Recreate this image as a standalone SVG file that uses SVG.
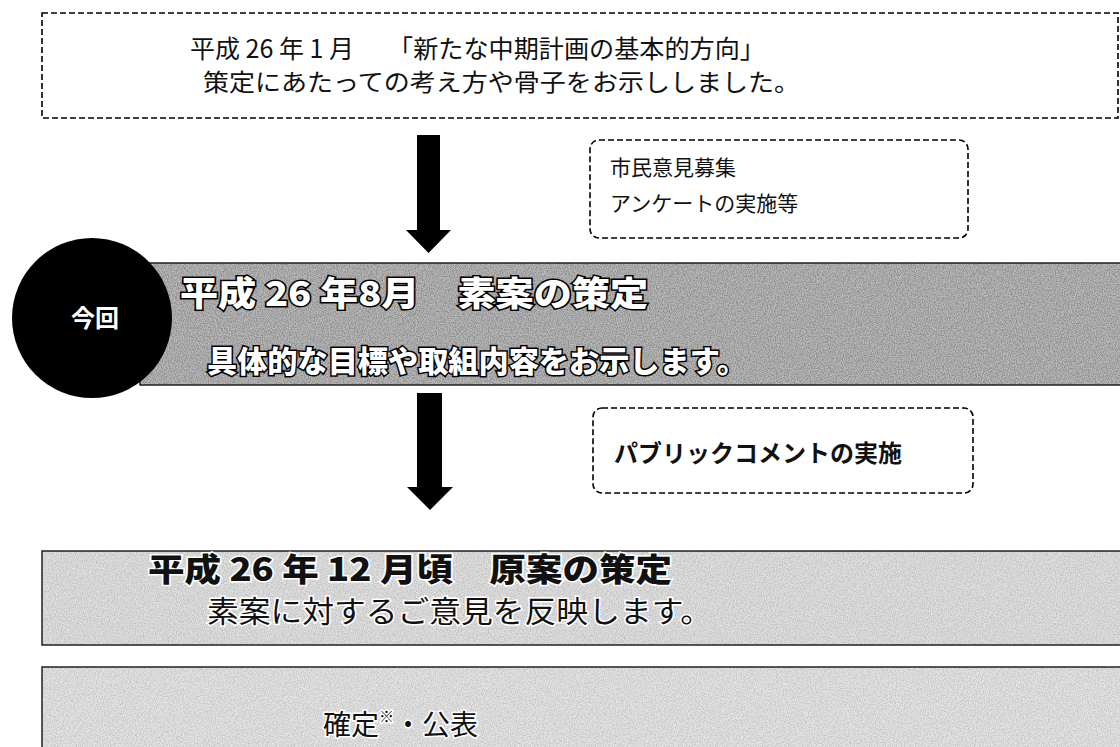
<svg xmlns="http://www.w3.org/2000/svg" width="1120" height="747" viewBox="0 0 1120 747">
<style>
text{font-family:"Noto Sans CJK JP","Noto Sans",sans-serif;}
.reg{fill:#111;font-weight:400;}
.bold{fill:#111;font-weight:700;}
.hollow{fill:#fff;stroke:#000;stroke-width:3px;paint-order:stroke;font-weight:900;}
.halo{fill:#111;stroke:#fff;stroke-width:3px;paint-order:stroke;}
.dash{fill:#fff;stroke:#000;stroke-width:1.6;stroke-dasharray:6 3;}
.band{stroke:#222;stroke-width:1.5;}
.arrow{fill:#000;}
</style>
<defs>
<filter id="speck" x="0" y="0" width="100%" height="100%">
<feTurbulence type="fractalNoise" baseFrequency="0.85" numOctaves="2" seed="4"/>
<feColorMatrix type="matrix" values="0 0 0 0 0  0 0 0 0 0  0 0 0 0 0  0 0 0 -3 1.9"/>
</filter>
</defs>
<rect width="1120" height="747" fill="#fff"/>

<g id="connectors">
<path class="arrow" d="M417,135 H440 V230 H451 L428.5,253 L406,230 H417 Z"/>
<path class="arrow" d="M417,393 H442 V487 H453 L430,510 L407,487 H417 Z"/>
</g>

<g id="node-jan">
<rect class="dash" x="42" y="13" width="1076" height="105"/>
<text class="reg" x="190" y="58" font-size="25">平成 26 年 1 月</text>
<text class="reg" x="388" y="58" font-size="25" textLength="377" lengthAdjust="spacingAndGlyphs">「新たな中期計画の基本的方向」</text>
<text class="reg" x="203" y="91" font-size="24" textLength="597" lengthAdjust="spacingAndGlyphs">策定にあたっての考え方や骨子をお示ししました。</text>
</g>

<g id="node-survey">
<rect class="dash" x="590" y="140" width="378" height="98" rx="9"/>
<text class="reg" x="610" y="175" font-size="21">市民意見募集</text>
<text class="reg" x="610" y="211" font-size="21">アンケートの実施等</text>
</g>

<g id="node-aug">
<rect class="band" x="140" y="263" width="982" height="122" fill="#b8b8b8"/>
<rect x="140" y="263" width="982" height="122" filter="url(#speck)" opacity="0.22"/>
<text class="hollow" x="180" y="306" font-size="34" textLength="468" lengthAdjust="spacingAndGlyphs">平成 26 年8月　素案の策定</text>
<text class="hollow" x="207" y="372" font-size="30" textLength="540" lengthAdjust="spacingAndGlyphs">具体的な目標や取組内容をお示します。</text>
</g>

<g id="node-now">
<circle cx="92" cy="318" r="80" fill="#000"/>
<text x="95" y="327" font-size="24" font-weight="700" fill="#fff" text-anchor="middle">今回</text>
</g>

<g id="node-comment">
<rect class="dash" x="593" y="408" width="380" height="85" rx="9"/>
<text class="bold" x="614" y="462" font-size="24">パブリックコメントの実施</text>
</g>

<g id="node-dec">
<rect class="band" x="42" y="551" width="1080" height="94" fill="#e0e0e0"/>
<rect x="42" y="551" width="1080" height="94" filter="url(#speck)" opacity="0.12"/>
<text class="halo" x="148" y="581" font-size="32" font-weight="900" textLength="524" lengthAdjust="spacingAndGlyphs">平成 26 年 12 月頃　原案の策定</text>
<text class="halo" x="207" y="622" font-size="30" textLength="505" lengthAdjust="spacingAndGlyphs">素案に対するご意見を反映します。</text>
</g>

<g id="node-final">
<rect class="band" x="42" y="667" width="1080" height="90" fill="#e4e4e4"/>
<rect x="42" y="667" width="1080" height="90" filter="url(#speck)" opacity="0.12"/>
<text class="halo" x="323" y="735" font-size="28">確定<tspan font-size="15" dy="-13">※</tspan><tspan dy="13">・公表</tspan></text>
</g>
</svg>
